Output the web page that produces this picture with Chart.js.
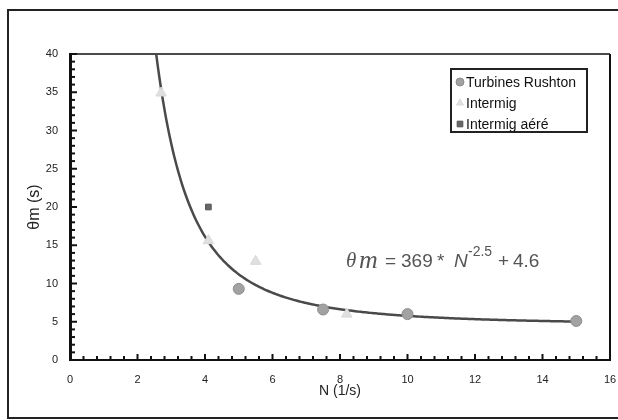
<!DOCTYPE html>
<html lang="fr">
<head>
<meta charset="UTF-8">
<title>Temps de mélange</title>
<script src="https://cdn.jsdelivr.net/npm/chart.js"></script>
<style>
  body { margin: 0; background: #fff; overflow: hidden; }
  canvas { display: block; }
</style>
</head>
<body>
<canvas id="mixChart" width="618" height="420"></canvas>
<script>
// mesures : vitesse N (1/s) et temps de mélange θm (s)
const rushtonN = [5, 7.5, 10, 15];
const rushtonTheta = [9.3, 6.6, 6.0, 5.1];
const intermigN = [2.7, 4.1, 5.5, 8.2];
const intermigTheta = [34.9, 15.6, 12.9, 6.0];
const aereN = [4.1];
const aereTheta = [20];

// corrélation θm = a * N^b + c
const fitA = 369;
const fitB = -2.5;
const fitC = 4.6;
const fitNmax = 15;

const xTickValues = [0, 2, 4, 6, 8, 10, 12, 14, 16];
const yTickValues = [0, 5, 10, 15, 20, 25, 30, 35, 40];

const yMax = 40;
const nStart = Math.pow((yMax - fitC) / fitA, 1 / fitB);
const fitPoints = [];
for (let n = nStart; n < fitNmax; n += 0.05) {
  fitPoints.push({ x: n, y: fitA * Math.pow(n, fitB) + fitC });
}
fitPoints.push({ x: fitNmax, y: fitA * Math.pow(fitNmax, fitB) + fitC });

const pairs = (xs, ys) => xs.map((x, i) => ({ x: x, y: ys[i] }));

const FONT = 'Liberation Sans, Arial, sans-serif';
const SERIF = 'Liberation Serif, Times New Roman, serif';

// cadre, graduations intérieures, légende et équation
const decorPlugin = {
  id: 'decor',
  beforeDraw(chart) {
    const ctx = chart.ctx;
    ctx.save();
    ctx.fillStyle = '#fff';
    ctx.fillRect(0, 0, chart.width, chart.height);
    ctx.strokeStyle = '#222';
    ctx.lineWidth = 2;
    ctx.beginPath();
    ctx.moveTo(chart.width, 10);
    ctx.lineTo(8, 10);
    ctx.lineTo(8, 418);
    ctx.lineTo(chart.width, 418);
    ctx.stroke();
    ctx.restore();
  },
  afterDraw(chart) {
    const ctx = chart.ctx;
    const a = chart.chartArea;
    const xs = chart.scales.x, ys = chart.scales.y;
    ctx.save();

    // bords haut et droit
    ctx.lineWidth = 2;
    ctx.strokeStyle = '#4a4a48';
    ctx.beginPath(); ctx.moveTo(a.left, a.top); ctx.lineTo(a.right, a.top); ctx.stroke();
    ctx.strokeStyle = '#111';
    ctx.beginPath(); ctx.moveTo(a.right, a.top); ctx.lineTo(a.right, a.bottom + 1); ctx.stroke();

    // graduations vers l'intérieur
    ctx.strokeStyle = '#111';
    ctx.lineWidth = 2;
    for (let i = 0; i <= 40; i++) {
      const px = xs.getPixelForValue(i * 0.4);
      const len = (i % 5 === 0) ? 6 : 4;
      ctx.beginPath(); ctx.moveTo(px, a.bottom); ctx.lineTo(px, a.bottom - len); ctx.stroke();
    }
    for (let v = 0; v <= 40; v++) {
      const py = ys.getPixelForValue(v);
      const len = (v % 5 === 0) ? 7 : 5;
      ctx.beginPath(); ctx.moveTo(a.left, py); ctx.lineTo(a.left + len, py); ctx.stroke();
    }

    // légende
    const lx = 451, ly = 69, lw = 136, lh = 63;
    ctx.fillStyle = '#fff';
    ctx.fillRect(lx, ly, lw, lh);
    ctx.font = '14px ' + FONT;
    ctx.textBaseline = 'middle';
    ctx.textAlign = 'left';
    const items = chart.data.datasets.filter(d => d.inLegend);
    items.forEach((d, i) => {
      const cy = ly + 13 + i * 21;
      ctx.fillStyle = d.backgroundColor;
      ctx.strokeStyle = d.borderColor;
      ctx.lineWidth = 1;
      Chart.helpers.drawPoint(ctx, { pointStyle: d.pointStyle, radius: 4, rotation: 0, borderWidth: 1 }, lx + 9, cy);
      ctx.fillStyle = '#111';
      ctx.fillText(d.label, lx + 15, cy + 1);
    });
    ctx.strokeStyle = '#222';
    ctx.lineWidth = 2;
    ctx.strokeRect(lx, ly, lw, lh);

    // équation de la courbe
    const base = 267;
    ctx.fillStyle = '#555';
    ctx.textBaseline = 'alphabetic';
    const put = (txt, font, x, dy) => {
      ctx.font = font;
      ctx.fillText(txt, x, base + (dy || 0));
    };
    put('θ', 'italic 21px ' + SERIF, 346);
    put('m', 'italic 26px ' + SERIF, 359, 1);
    put('=', '19px ' + FONT, 385);
    put(String(fitA), '19px ' + FONT, 401);
    put('*', '19px ' + FONT, 437);
    put('N', 'italic 19px ' + FONT, 454);
    put(String(fitB), '14px ' + FONT, 468, -11);
    put('+', '19px ' + FONT, 498);
    put(String(fitC), '19px ' + FONT, 513);

    ctx.restore();
  }
};

new Chart(document.getElementById('mixChart'), {
  type: 'scatter',
  data: {
    datasets: [
      {
        label: 'Turbines Rushton',
        inLegend: true,
        data: pairs(rushtonN, rushtonTheta),
        pointStyle: 'circle',
        pointRadius: 5.5,
        backgroundColor: '#a2a2a2',
        borderColor: '#8e8e8e',
        borderWidth: 1,
        order: 0
      },
      {
        label: 'Intermig',
        inLegend: true,
        data: pairs(intermigN, intermigTheta),
        pointStyle: 'triangle',
        pointRadius: 6,
        backgroundColor: '#e0e0e0',
        borderColor: '#d8d8d8',
        borderWidth: 1,
        order: 0
      },
      {
        label: 'Intermig aéré',
        inLegend: true,
        data: pairs(aereN, aereTheta),
        pointStyle: 'rect',
        pointRadius: 4,
        backgroundColor: '#666',
        borderColor: '#555',
        borderWidth: 1,
        order: 0
      },
      {
        label: 'Corrélation',
        type: 'line',
        data: fitPoints,
        borderColor: '#4a4a4a',
        borderWidth: 2.5,
        pointRadius: 0,
        fill: false,
        tension: 0,
        order: 1
      }
    ]
  },
  options: {
    responsive: false,
    animation: false,
    layout: { padding: { top: 54, right: 8, left: 0, bottom: 0 } },
    plugins: {
      legend: { display: false },
      tooltip: { enabled: false }
    },
    scales: {
      x: {
        type: 'linear',
        min: 0,
        max: 16,
        afterBuildTicks: s => { s.ticks = xTickValues.map(v => ({ value: v })); },
        afterFit: s => { s.height = 60; s.paddingLeft = 0; s.paddingRight = 0; },
        grid: { display: false, drawTicks: false },
        border: { display: true, color: '#111', width: 2 },
        ticks: { padding: 13, color: '#222', font: { family: FONT, size: 11 } },
        title: {
          display: true,
          text: 'N (1/s)',
          color: '#222',
          font: { family: FONT, size: 14 },
          padding: { top: 0, bottom: 20 }
        }
      },
      y: {
        type: 'linear',
        min: 0,
        max: 40,
        afterBuildTicks: s => { s.ticks = yTickValues.map(v => ({ value: v })); },
        afterFit: s => { s.width = 70; s.paddingTop = 0; s.paddingBottom = 0; },
        grid: { display: false, drawTicks: false },
        border: { display: true, color: '#111', width: 3 },
        ticks: { padding: 12, color: '#222', font: { family: FONT, size: 11 } },
        title: {
          display: true,
          text: 'θm (s)',
          color: '#222',
          font: { family: FONT, size: 16 },
          padding: { top: 25, bottom: 0 }
        }
      }
    }
  },
  plugins: [decorPlugin]
});
</script>
</body>
</html>
